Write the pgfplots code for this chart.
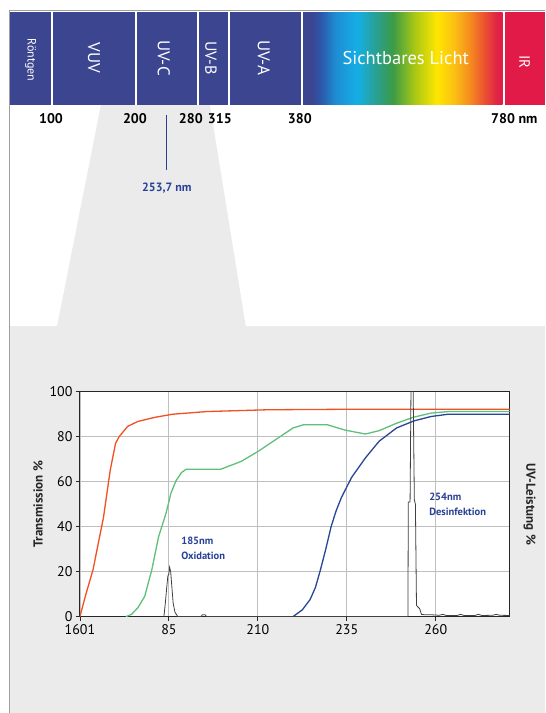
\documentclass[border=0pt]{standalone}
\usepackage{pgfplots}
\pgfplotsset{compat=1.18}
\usepackage{fontspec}
\setmainfont{PT Sans}
\definecolor{navy}{RGB}{59,69,144}
\definecolor{irred}{RGB}{226,26,72}
\definecolor{bggray}{RGB}{235,235,235}
\definecolor{framegray}{RGB}{160,160,160}
\definecolor{cred}{RGB}{240,80,35}
\definecolor{cgreen}{RGB}{95,192,122}
\definecolor{cblue}{RGB}{40,70,150}
\definecolor{annblue}{RGB}{40,65,150}
\definecolor{sA}{RGB}{59,69,144}
\definecolor{sB}{RGB}{45,85,170}
\definecolor{sC}{RGB}{30,140,210}
\definecolor{sD}{RGB}{20,175,230}
\definecolor{sE}{RGB}{40,160,150}
\definecolor{sF}{RGB}{60,155,70}
\definecolor{sG}{RGB}{170,200,20}
\definecolor{sH}{RGB}{255,230,0}
\definecolor{sI}{RGB}{250,190,20}
\definecolor{sJ}{RGB}{245,140,30}
\definecolor{sK}{RGB}{235,80,50}
\definecolor{sL}{RGB}{225,35,70}
\definecolor{sM}{RGB}{226,26,72}
\pgfdeclarehorizontalshading{spectrum}{100bp}{color(0bp)=(sA); color(25bp)=(sA); color(27.25bp)=(sA); color(29.25bp)=(sB); color(33bp)=(sC); color(38.5bp)=(sD); color(43bp)=(sE); color(47.5bp)=(sF); color(53bp)=(sG); color(58.5bp)=(sH); color(63bp)=(sI); color(66.75bp)=(sJ); color(70.5bp)=(sK); color(73.5bp)=(sL); color(75bp)=(sM); color(100bp)=(sM)}
\begin{document}
\begin{tikzpicture}
\begin{scope}[x=1pt,y=-1pt]
\fill[white] (0,0) rectangle (545,713);
\fill[bggray] (9.5,326.5) rectangle (545,713);
\fill[bggray] (101,105) -- (210,105) -- (246,327) -- (57,327) -- cycle;
\draw[framegray, line width=0.9pt] (9.5,713) -- (9.5,10.5) -- (545,10.5);
\fill[navy] (10,12.5) rectangle (51.4,105);
\fill[navy] (52.8,12.5) rectangle (135,105);
\fill[navy] (136.6,12.5) rectangle (197,105);
\fill[navy] (198.8,12.5) rectangle (228,105);
\fill[navy] (230,12.5) rectangle (301,105);
\shade[shading=spectrum] (303.4,12.5) rectangle (503,105);
\fill[irred] (505,12.5) rectangle (545,105);
\node[rotate=-90, white, font=\fontsize{12}{12}\selectfont] at (30.5,60) {Röntgen};
\node[rotate=-90, white, font=\fontsize{17}{17}\selectfont] at (94,58) {VUV};
\node[rotate=-90, white, font=\fontsize{17}{17}\selectfont] at (164,58) {UV-C};
\node[rotate=-90, white, font=\fontsize{16}{16}\selectfont] at (211,58) {UV-B};
\node[rotate=-90, white, font=\fontsize{17}{17}\selectfont] at (264,58) {UV-A};
\node[white, font=\fontsize{18.5}{18.5}\selectfont] at (406,58) {Sichtbares Licht};
\node[rotate=-90, white, font=\fontsize{15}{15}\selectfont] at (525,62) {IR};
\begin{scope}[font=\bfseries\fontsize{14}{14}\selectfont]
\node at (51,119) {100};
\node at (135,119) {200};
\node at (191,119) {280};
\node at (220,119) {315};
\node at (300,119) {380};
\node[anchor=west] at (488,119) {780 nm};
\end{scope}
\draw[annblue, line width=1.2pt] (167,115) -- (167,170);
\node[annblue, font=\bfseries\fontsize{12}{12}\selectfont] at (167,188) {253,7 nm};
\end{scope}
\begin{axis}[
  name=ax,
  at={(80pt,-617pt)}, anchor=south west,
  scale only axis, width=430pt, height=225pt,
  xmin=160, xmax=280.8, ymin=0, ymax=100,
  xtick={160,185,210,235,260}, xticklabels={1601,85,210,235,260},
  ytick={0,20,...,100},
  grid=major, grid style={draw=black!25, line width=0.9pt},
  axis line style={draw=black!85, line width=1pt},
  tick style={draw=black!85, line width=0.8pt},
  tick align=outside, major tick length=4pt,
  xtick pos=bottom, ytick pos=left,
  axis background/.style={fill=white},
  ticklabel style={font=\fontsize{14}{14}\selectfont, text=black},
  /pgf/number format/assume math mode=true,
  ylabel={Transmission \%},
  ylabel style={font=\bfseries\fontsize{13}{13}\selectfont, text=black!85},
  clip mode=individual,
]
\addplot[cred, line width=1.3pt] coordinates {
(160,0) (161.5,9) (163.7,21) (165.2,33) (166.6,44) (168.5,65) (170,77) (171,80) (173.4,84.6) (176.3,86.8) (181,88.6) (186,90) (195.7,91.2) (213,92) (234.4,92.2) (280.8,92.2)};
\addplot[cgreen, line width=1.3pt] coordinates {
(172.9,0) (174.5,1) (176.3,4) (178.2,9) (180.2,20.8) (182.1,35.5) (184.2,46) (185.6,55) (187,60.4) (188.5,64) (189.8,65.5) (199.5,65.5) (205.3,69) (210.2,73.6) (215,78.7) (219.9,83.9) (222.8,85.3) (229.6,85.3) (234.4,83) (240.2,81.2) (244.1,82.7) (249,86) (253.8,88.7) (258.7,90.5) (263.5,91.2) (280.8,91.2)};
\addplot[cblue, line width=1.3pt] coordinates {
(219.9,0) (222.5,3) (224.7,7.6) (226.2,13) (227.6,20.8) (229.1,30) (230.6,40) (232,47) (233.5,53) (236.4,62) (240.3,70.7) (244.1,78) (249,83.9) (253.8,87) (258.7,89) (263.5,90) (280.8,90)};
\addplot[black!75, line width=0.8pt] coordinates {
(183.6,0) (184.0,6) (184.4,13) (184.7,18) (185.0,19) (185.2,22) (185.5,20) (185.8,14) (186.2,6) (186.7,2) (187.5,0) (194,0) (194.4,0.8) (195.2,0.8) (195.6,0) (252.2,0) (252.3,51) (252.8,51) (253.1,110) (253.6,110) (253.8,81) (254.0,52) (254.3,50) (254.6,5) (255.5,3.5) (256,1) (257,0.8) (259,0.8) (261,0.6) (262,1) (263,0.5) (266,0.5) (267,1) (268,0.5) (271,0.5) (272,1) (273,0.5) (276,0.6) (277,1) (278,0.6) (280.8,0.5)};
\node[anchor=west, align=left, text=annblue, font=\bfseries\fontsize{10.5}{15}\selectfont] at (axis cs:187.5,30.5) {185nm\\Oxidation};
\node[anchor=west, align=left, text=annblue, font=\bfseries\fontsize{10.5}{15}\selectfont] at (axis cs:257.2,49.8) {254nm\\Desinfektion};
\end{axis}
\node[rotate=-90, font=\bfseries\fontsize{13}{13}\selectfont, text=black!85] at ([xshift=20pt]ax.east) {UV-Leistung \%};
\end{tikzpicture}
\end{document}
